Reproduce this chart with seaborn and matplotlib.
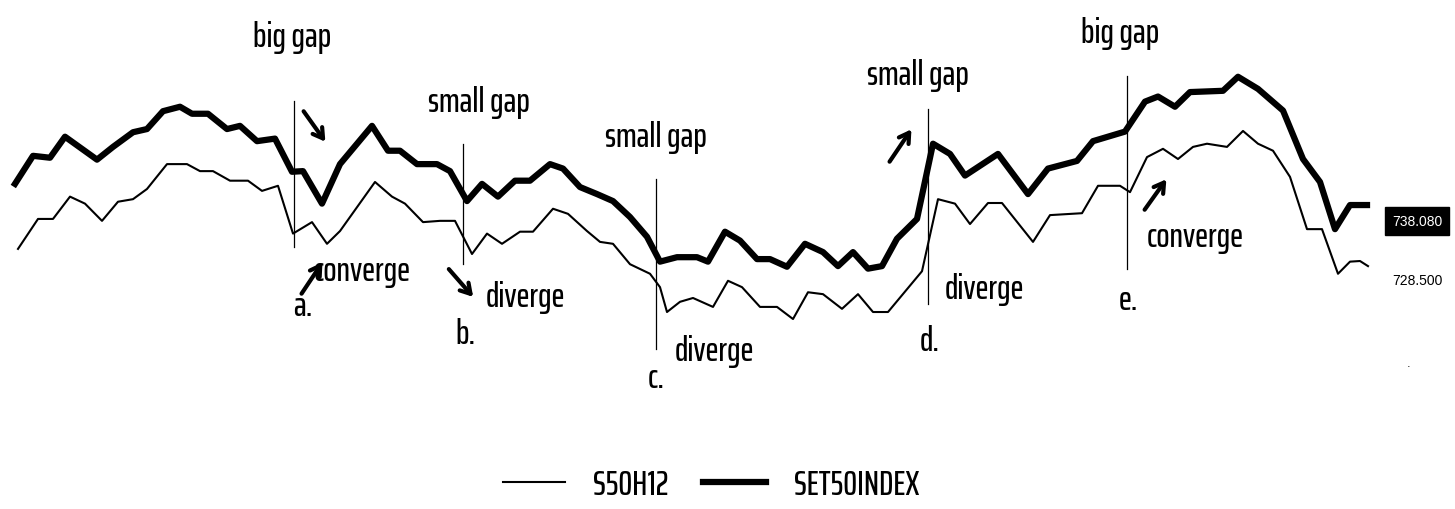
import matplotlib
matplotlib.use('Agg')
import matplotlib.pyplot as plt
import seaborn as sns

# tempo (unidade de barra) e preços
t_set50 = [15, 33, 50, 65, 97, 113, 133, 147, 163, 180, 192, 208, 227, 240, 257, 275, 292, 303,
           322, 340, 372, 388, 400, 417, 437, 450, 467, 482, 498, 515, 530, 550, 563, 580, 597,
           613, 630, 647, 660, 677, 697, 708, 725, 740, 757, 770, 787, 805, 823, 838, 853, 868,
           882, 897, 917, 933, 950, 965, 998, 1028, 1048, 1077, 1093, 1125, 1145, 1158, 1175,
           1190, 1223, 1238, 1258, 1283, 1303, 1320, 1335, 1350, 1367]
set50 = [741.4, 745.8, 745.5, 748.8, 745.2, 747.2, 749.5, 750.0, 752.8, 753.5, 752.4, 752.4,
         750.0, 750.5, 748.1, 748.5, 743.3, 743.4, 738.3, 744.5, 750.5, 746.6, 746.6, 744.5,
         744.5, 743.4, 738.7, 741.4, 739.4, 741.9, 741.9, 744.5, 743.8, 740.9, 739.8, 738.7,
         736.2, 733.1, 729.2, 729.9, 729.9, 729.2, 733.9, 732.5, 729.6, 729.6, 728.4, 732.0,
         730.7, 728.5, 730.7, 728.1, 728.5, 732.8, 735.9, 747.7, 746.1, 742.7, 746.1, 739.8,
         743.8, 745.0, 748.1, 749.6, 754.3, 755.1, 753.5, 755.8, 756.0, 758.2, 756.3, 752.9,
         745.3, 741.7, 734.3, 738.08, 738.08]

t_s50h12 = [18, 38, 53, 70, 85, 102, 118, 133, 147, 167, 187, 200, 213, 230, 248, 262, 278, 293,
            312, 327, 340, 375, 392, 405, 423, 440, 455, 472, 487, 502, 520, 533, 553, 568, 587,
            600, 613, 630, 650, 660, 667, 680, 693, 713, 728, 742, 760, 777, 793, 808, 823, 842,
            858, 873, 888, 922, 938, 955, 970, 988, 1002, 1033, 1050, 1082, 1098, 1120, 1130,
            1147, 1163, 1178, 1193, 1207, 1227, 1243, 1258, 1273, 1290, 1307, 1322, 1338, 1350,
            1360, 1368]
s50h12 = [731.2, 735.9, 735.9, 739.4, 738.3, 735.6, 738.6, 739.0, 740.6, 744.5, 744.5, 743.4,
          743.4, 741.9, 741.9, 740.3, 741.1, 733.6, 735.4, 732.0, 734.0, 741.7, 739.4, 738.3,
          735.4, 735.6, 735.6, 730.4, 733.6, 732.0, 733.9, 733.9, 737.5, 736.7, 734.0, 732.3,
          732.0, 728.8, 727.3, 725.2, 721.3, 722.9, 723.5, 722.1, 726.2, 725.2, 722.1, 722.1,
          720.2, 724.4, 724.1, 721.8, 724.1, 721.3, 721.3, 727.7, 739.0, 738.3, 735.1, 738.4,
          738.4, 732.3, 736.5, 736.8, 741.1, 741.1, 740.1, 745.6, 746.9, 745.3, 747.2, 747.7,
          747.2, 749.7, 747.7, 746.6, 742.5, 734.3, 734.3, 727.3, 729.2, 729.3, 728.5]

ultimo_set50 = '738.080'
ultimo_s50h12 = '728.500'

# marcações a..e
marcas_x = [294, 463, 656, 928, 1127]
textos_gap = ['big gap', 'small gap', 'small gap', 'small gap', 'big gap']
textos_baixo = ['converge', 'diverge', 'diverge', 'diverge', 'converge']
letras = ['a.', 'b.', 'c.', 'd.', 'e.']

W, H = 1455, 510
fonte = dict(family=['Saira ExtraCondensed', 'DejaVu Sans'], size=25, weight='medium')


def fr(x, y):
    # pixel -> fração da figura
    return x / W, 1 - y / H


fig = plt.figure(figsize=(14.55, 5.1), dpi=100)
ax = fig.add_axes([0, 0, 1, 1])

sns.lineplot(x=t_s50h12, y=s50h12, ax=ax, color='black', linewidth=1.5,
             estimator=None, label='S50H12')
sns.lineplot(x=t_set50, y=set50, ax=ax, color='black', linewidth=4.5,
             estimator=None, label='SET50INDEX')

ax.set_xlim(0, W)
ax.set_ylim(690.4, 770.4)
ax.axis('off')

# linhas verticais
faixas_y = [(102, 248), (145, 265), (180, 350), (110, 305), (77, 270)]
for xm, (y0, y1) in zip(marcas_x, faixas_y):
    ax.axvline(xm, ymin=1 - y1 / H, ymax=1 - y0 / H, color='black', lw=0.9)

pos_gap = [(292, 38), (479, 103), (656, 138), (918, 75), (1120, 33)]
pos_baixo = [(362, 272), (525, 297), (714, 352), (984, 290), (1195, 238)]
pos_letra = [(303, 307), (465, 334), (656, 379), (930, 342), (1128, 300)]

for txt, p in zip(textos_gap + textos_baixo + letras, pos_gap + pos_baixo + pos_letra):
    ax.text(*fr(*p), txt, transform=ax.transAxes, ha='center', va='center', fontdict=fonte)

# setas (cauda, ponta)
setas = [((302, 110), (327, 145)), ((300, 297), (324, 261)), ((447, 268), (475, 300)),
         ((888, 165), (913, 128)), ((1143, 213), (1168, 178))]
for cauda, ponta in setas:
    ax.annotate('', xy=fr(*ponta), xytext=fr(*cauda), xycoords='axes fraction',
                textcoords='axes fraction',
                arrowprops=dict(arrowstyle='->,head_length=0.5,head_width=0.3',
                                lw=3, color='black', mutation_scale=14))

# valores finais à direita
ax.text(*fr(1417, 222), ultimo_set50, transform=ax.transAxes, ha='center', va='center',
        fontsize=10, color='white', family='Liberation Sans',
        bbox=dict(facecolor='black', edgecolor='black', pad=5))
ax.text(*fr(1417, 281), ultimo_s50h12, transform=ax.transAxes, ha='center', va='center',
        fontsize=10, color='black', family='Liberation Sans')
ax.text(*fr(1409, 364), '.', transform=ax.transAxes, ha='center', va='center', fontsize=8)

ax.legend(loc='center', bbox_to_anchor=fr(711, 486), ncol=2, frameon=False,
          prop=fonte, handlelength=1.8, handletextpad=0.8, columnspacing=1.0)

fig.savefig('out.png', dpi=100, facecolor='white')
